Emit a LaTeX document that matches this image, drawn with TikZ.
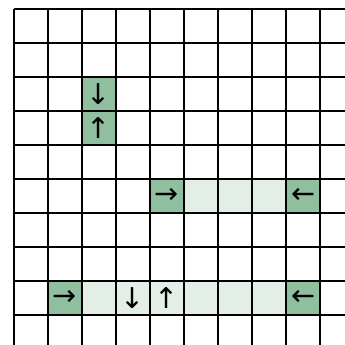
\documentclass[tikz,border=0pt]{standalone}
\usepackage{fontspec}
\newfontfamily\arrowfont{DejaVu Sans}
\usepackage{tikz}
\usetikzlibrary{positioning}

\definecolor{cellDark}{RGB}{143,191,159}
\definecolor{cellLight}{RGB}{227,238,230}

\begin{document}
\begin{tikzpicture}[
    gridLine/.style={draw=black, line width=0.9pt},
    endCell/.style={fill=cellDark},
    pathCell/.style={fill=cellLight},
    arrowMark/.style={font=\arrowfont\fontsize{24}{24}\selectfont, inner sep=0pt}
]

% Frame
\useasboundingbox (-0.412,0.265) rectangle (9.735,-9.853);
\clip (-0.412,0.265) rectangle (9.735,-9.853);

% Vertical pair
\fill[endCell] (2,-2) rectangle (3,-3);
\fill[endCell] (2,-3) rectangle (3,-4);

% Row 5
\fill[pathCell] (5,-5) rectangle (8,-6);
\fill[endCell] (4,-5) rectangle (5,-6);
\fill[endCell] (8,-5) rectangle (9,-6);

% Row 8
\fill[pathCell] (2,-8) rectangle (8,-9);
\fill[endCell] (1,-8) rectangle (2,-9);
\fill[endCell] (8,-8) rectangle (9,-9);

% Grid
\draw[gridLine] (0,0) grid (10,-10);

% Arrows
\node[arrowMark] (downA) at (2.5,-2.5) {↓};
\node[arrowMark] (upA) at (2.5,-3.5) {↑};

\node[arrowMark] (rightB) at (4.5,-5.5) {→};
\node[arrowMark] (leftB) at (8.5,-5.5) {←};

\node[arrowMark] (rightC) at (1.5,-8.5) {→};
\node[arrowMark] (downC) at (3.5,-8.5) {↓};
\node[arrowMark] (upC) at (4.5,-8.5) {↑};
\node[arrowMark] (leftC) at (8.5,-8.5) {←};

\end{tikzpicture}
\end{document}
